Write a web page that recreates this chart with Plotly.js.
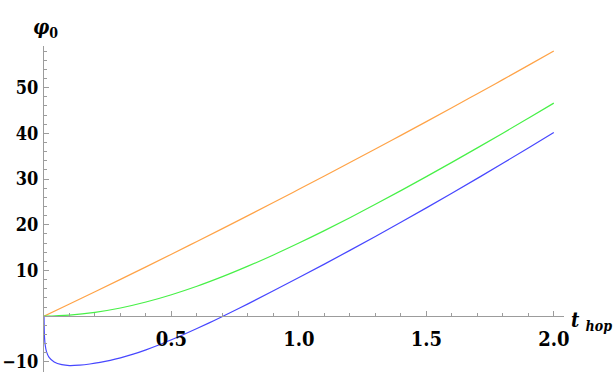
<!DOCTYPE html>
<html>
<head>
<meta charset="utf-8">
<script src="https://cdn.plot.ly/plotly-3.0.1.min.js"></script>
<style>
  html, body { margin: 0; padding: 0; background: #fff; }
</style>
</head>
<body>
<div id="contenedorGrafica" style="width:614px;height:382px;"></div>
<script>
// valores
const X_MALLA = [0, 0.1, 0.2, 0.3, 0.4, 0.5, 0.6, 0.7, 0.8, 0.9, 1.0, 1.1, 1.2, 1.3, 1.4, 1.5, 1.6, 1.7, 1.8, 1.9, 2.0];
const Y_NARANJA = [0, 2.66, 5.35, 8.06, 10.8, 13.56, 16.35, 19.16, 22.0, 24.86, 27.75, 30.66, 33.6, 36.56, 39.55, 42.56, 45.6, 48.66, 51.75, 54.86, 58.0];
const Y_VERDE = [0, 0.25, 0.85, 1.8, 3.1, 4.7, 6.55, 8.65, 10.95, 13.4, 16.0, 18.72, 21.55, 24.47, 27.47, 30.53, 33.65, 36.82, 40.04, 43.31, 46.61];

const X_AZUL = [0, 0.002, 0.005, 0.01, 0.02, 0.04, 0.07, 0.1, 0.14, 0.18, 0.22, 0.26, 0.3, 0.35, 0.4, 0.45, 0.5, 0.55, 0.6, 0.65, 0.7,
                0.8, 0.9, 1.0, 1.1, 1.2, 1.3, 1.4, 1.5, 1.6, 1.7, 1.8, 1.9, 2.0];
const Y_AZUL = [0, -4.6, -6.4, -7.8, -9.0, -10.0, -10.6, -10.8, -10.7, -10.45, -10.1, -9.65, -9.1, -8.3, -7.35, -6.3, -5.15, -3.95, -2.7, -1.4, -0.06,
                2.7, 5.55, 8.45, 11.4, 14.4, 17.45, 20.55, 23.7, 26.9, 30.15, 33.45, 36.8, 40.2];

const TICKS_X = [0.5, 1.0, 1.5, 2.0];
const ETIQUETAS_X = ["0.5", "1.0", "1.5", "2.0"];
const TICKS_Y = [-10, 10, 20, 30, 40, 50];

const RANGO_X = [0, 2.04];
const RANGO_Y = [-12.2, 59.1];

const GRIS = '#9c9c9c';
const SERIF = 'DejaVu Serif Condensed, DejaVu Serif';
const FUENTE = {family: SERIF, size: 20, color: '#000', weight: 'bold'};
const FUENTE_Y = {family: SERIF, size: 18, color: '#000', weight: 'bold'};

function curva(x, y, color){
    return {
        mode: 'lines',
        x: x,
        y: y,
        line: {color: color, width: 1.2, shape: 'spline', smoothing: 1},
        hoverinfo: 'skip'
    };
}

function crearPlano(){
    let datos = [
        curva(X_MALLA, Y_NARANJA, '#ffa347'),
        curva(X_MALLA, Y_VERDE, '#47f047'),
        curva(X_AZUL, Y_AZUL, '#4747ff')
    ];

    let layout = {
        width: 614,
        height: 382,
        margin: {l: 44, r: 50, t: 46, b: 10},
        paper_bgcolor: '#fff',
        plot_bgcolor: '#fff',
        showlegend: false,
        font: {family: SERIF},
        xaxis: {
            range: RANGO_X,
            anchor: 'free',
            position: (0 - RANGO_Y[0]) / (RANGO_Y[1] - RANGO_Y[0]),
            showgrid: false,
            zeroline: false,
            showline: true,
            linecolor: GRIS,
            linewidth: 1,
            tickmode: 'array',
            tickvals: TICKS_X,
            ticktext: ETIQUETAS_X,
            ticks: 'inside',
            ticklen: 5,
            tickcolor: GRIS,
            tickwidth: 1,
            ticklabelstandoff: 5,
            tickfont: FUENTE,
            minor: {dtick: 0.1, tick0: 0, ticks: 'inside', ticklen: 3, tickcolor: GRIS, tickwidth: 1, showgrid: false}
        },
        yaxis: {
            range: RANGO_Y,
            showgrid: false,
            zeroline: false,
            showline: true,
            linecolor: GRIS,
            linewidth: 1,
            tickmode: 'array',
            tickvals: TICKS_Y,
            ticks: 'inside',
            ticklen: 5,
            tickcolor: GRIS,
            tickwidth: 1,
            ticklabelstandoff: 1,
            tickfont: FUENTE_Y,
            minor: {dtick: 2, tick0: 0, ticks: 'inside', ticklen: 3, tickcolor: GRIS, tickwidth: 1, showgrid: false}
        },
        annotations: [
            {
                text: '<i>φ</i><sub>0</sub>',
                xref: 'paper', yref: 'paper',
                x: 0.002, y: 1.055,
                xanchor: 'center', yanchor: 'middle',
                showarrow: false,
                font: FUENTE
            },
            {
                text: '<i>t</i> <sub><i>hop</i></sub>',
                xref: 'paper', yref: 'paper',
                x: 1.096, y: 0.155,
                xanchor: 'right', yanchor: 'middle',
                showarrow: false,
                font: FUENTE
            }
        ]
    };

    Plotly.newPlot(document.getElementById("contenedorGrafica"), datos, layout, {displayModeBar: false, staticPlot: true});
}

crearPlano();
</script>
</body>
</html>
